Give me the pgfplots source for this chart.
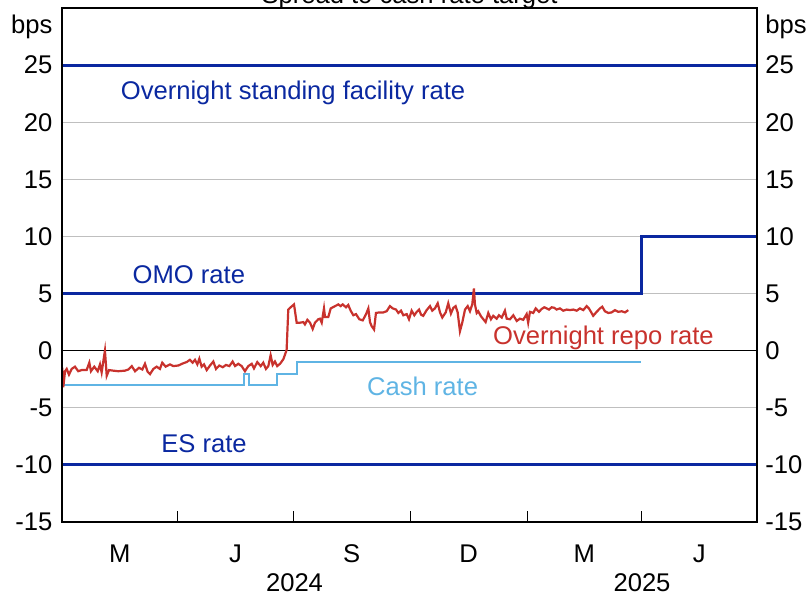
\documentclass[border=0pt]{standalone}
\usepackage{fontspec}
\setmainfont{Liberation Sans}
\usepackage{pgfplots}
\pgfplotsset{compat=1.18}
\usetikzlibrary{calc}
\definecolor{rbadark}{RGB}{10,40,160}
\definecolor{rbared}{RGB}{200,50,45}
\definecolor{rbalight}{RGB}{95,180,228}
\begin{document}
\begin{tikzpicture}[font=\fontsize{12.8}{15}\selectfont]
\pgfplotsset{common/.style={
  scale only axis, width=347.5pt, height=257pt,
  xmin=0, xmax=547, ymin=-15, ymax=30,
  /pgf/number format/assume math mode=true,
  axis line style={line width=0.6pt},
  ytick={-15,-10,-5,0,5,10,15,20,25},
  yticklabels={-15,-10,-5,0,5,10,15,20,25},
  extra y ticks={28.35}, extra y tick labels={bps},
  extra y tick style={grid=none, major tick length=0pt},
  major tick length=0pt,
  clip=false,
}}
\begin{axis}[common,
  ymajorgrids, grid style={black!25, line width=0.5pt},
  ytick pos=left,
  yticklabel style={inner sep=0pt, xshift=-4.6pt},
  xtick={45.5,136.5,228,320,411,501.5},
  xticklabels={M,J,S,D,M,J},
  minor xtick={91,182,274,366,456},
  minor tick length=5.5pt, tick align=inside, xtick pos=bottom,
  minor tick style={line width=0.5pt, black},
  xticklabel style={inner sep=0pt, anchor=north, text height=9.2pt, yshift=-11pt},
]
% zero line
\addplot[black, line width=0.6pt] coordinates {(0,0) (547,0)};
% Overnight standing facility rate
\addplot[rbadark, line width=1.5pt] coordinates {(0,25) (547,25)};
% ES rate
\addplot[rbadark, line width=1.5pt] coordinates {(0,-10) (547,-10)};
% OMO rate
\addplot[rbadark, line width=1.5pt] coordinates {(0,5) (456,5) (456,10) (547,10)};
% Cash rate
\addplot[rbalight, line width=1pt] coordinates {(0,-3) (143,-3) (143,-2) (147,-2) (147,-3) (169,-3) (169,-2) (185,-2) (185,-1) (456,-1)};
% Overnight repo rate
\addplot[rbared, line width=1.1pt] coordinates {
(0.2,-1.5) (1.0,-3.2) (2.4,-1.8) (3.7,-1.6) (5.5,-2.1) (7.6,-1.6) (10.2,-1.4) (12.8,-1.8)
(15.5,-1.7) (19.4,-1.7) (21.5,-1.05) (22.8,-1.8) (25.4,-1.4) (28.1,-1.8) (29.9,-1.2) (31.2,-1.9)
(33.8,0) (35.2,-2.2) (37.0,-1.7) (40.4,-1.75) (44.3,-1.8) (49.6,-1.75) (52.2,-1.65) (54.9,-1.35)
(57.5,-1.8) (60.6,-1.5) (63.2,-1.65) (65.3,-1.15) (67.4,-1.85) (69.3,-2.05) (71.9,-1.6) (74.5,-1.4)
(77.1,-1.6) (78.9,-1.05) (81.6,-1.4) (85.0,-1.2) (87.6,-1.35) (91.5,-1.3) (95.5,-1.1)
(98.1,-1.0) (100.7,-0.8) (102.8,-1.05) (104.7,-0.8) (106.5,-1.2) (108.1,-0.7) (109.9,-1.4) (111.8,-1.2)
(113.9,-1.7) (116.5,-1.3) (119.1,-0.95) (121.2,-1.6) (123.8,-1.3) (126.5,-1.45) (129.1,-1.25) (131.7,-1.35)
(134.3,-0.95) (136.2,-1.35) (138.7,-1.15) (141.4,-1.35) (144.0,-1.8) (146.6,-1.35) (149.3,-1.15) (151.1,-1.55)
(153.7,-1.0) (156.4,-1.35) (158.4,-1.05) (160.5,-1.6) (162.4,-1.35) (164.2,-0.4) (165.8,-1.25) (167.6,-0.95)
(169.4,-1.35) (171.6,-1.15) (174.2,-0.75) (176.3,-0.1)
(176.8,0.1) (178.1,3.6) (180.0,3.8) (182.6,4.05) (184.7,2.45) (187.3,2.45) (189.9,2.5) (191.2,2.3)
(193.1,2.7) (195.2,2.45) (197.3,1.9) (199.1,2.45) (201.7,2.75) (203.0,2.8) (204.4,2.45) (206.2,3.7)
(207.0,2.95) (209.6,2.95) (211.5,3.7) (214.9,3.9) (217.5,4.05) (219.3,3.9) (220.9,4.05) (223.5,3.8)
(225.3,4.0) (227.2,3.5) (229.3,3.1) (231.4,3.2) (234.0,2.75) (236.7,2.65) (239.3,3.2) (241.1,3.7)
(242.4,2.5) (243.7,2.15) (245.6,1.85) (247.1,3.3) (249.7,3.35) (252.9,3.35) (255.5,3.45) (258.1,3.9)
(260.3,3.7) (262.9,3.6) (264.7,3.3)
(266.8,3.5) (268.6,3.1) (271.3,3.2) (273.1,2.75) (275.2,3.5) (277.3,3.1) (279.2,3.4) (281.0,3.6)
(282.6,3.15) (284.3,3.05) (287.0,3.55) (289.6,3.9) (291.4,3.5) (293.5,3.7) (295.7,4.15) (297.5,3.35)
(299.3,2.9) (302.0,3.35) (304.0,4.15) (306.1,3.25) (308.0,3.75) (309.8,3.9) (311.4,3.35) (313.2,1.7)
(315.0,2.45) (317.2,3.6) (319.3,3.9) (321.1,3.45) (322.9,4.05) (324.2,5.45) (325.0,4.05) (326.4,3.3)
(327.6,3.45) (329.8,3.0) (331.6,2.75) (333.4,2.5) (335.5,3.3) (337.6,2.75) (339.4,3.05) (342.1,2.8)
(343.9,3.1) (346.1,2.9) (348.6,3.5) (350.0,2.8) (352.6,2.75) (355.2,3.1) (357.9,2.6) (360.4,2.8)
(363.0,2.7)
(365.7,3.2) (366.9,2.45) (368.3,3.4) (370.9,3.3) (372.8,3.7) (375.4,3.4) (377.5,3.65) (379.6,3.8)
(381.5,3.7) (383.3,3.6) (385.4,3.8) (387.5,3.75) (389.3,3.6) (391.9,3.7) (394.5,3.5) (397.2,3.6)
(399.8,3.55) (402.4,3.6) (405.1,3.5) (407.6,3.7) (410.3,3.55) (412.9,3.9) (414.7,3.7) (416.3,3.4)
(418.1,3.05) (420.8,3.4) (423.4,3.7) (425.2,3.85) (427.3,3.45) (429.9,3.3) (432.6,3.35) (435.2,3.55)
(437.8,3.4) (440.5,3.45) (443.1,3.35) (445.7,3.55)
};
\node[anchor=base west, inner sep=0pt, text=rbadark] at (axis cs:46,22.0) {Overnight standing facility rate};
\node[anchor=base west, inner sep=0pt, text=rbadark] at (axis cs:55.3,5.9) {OMO rate};
\node[anchor=base west, inner sep=0pt, text=rbared] at (axis cs:339,0.5) {Overnight repo rate};
\node[anchor=base west, inner sep=0pt, text=rbalight] at (axis cs:239.8,-3.95) {Cash rate};
\node[anchor=base west, inner sep=0pt, text=rbadark] at (axis cs:77.9,-8.95) {ES rate};
\node[anchor=north, inner sep=0pt, text height=9.2pt, yshift=-25.3pt] at (axis cs:183,-15) {2024};
\node[anchor=north, inner sep=0pt, text height=9.2pt, yshift=-25.3pt] at (axis cs:456.5,-15) {2025};
\node[anchor=base, inner sep=0pt, yshift=2pt] at (rel axis cs:0.5,1) {Spread to cash rate target};
\end{axis}
\begin{axis}[common,
  ytick pos=right, yticklabel pos=right,
  yticklabel style={inner sep=0pt, xshift=4pt},
  xtick=\empty,
]
\end{axis}
\pgfresetboundingbox
\path[use as bounding box] ($(current axis.south west)+(-31pt,-36pt)$) rectangle ($(current axis.north east)+(25.5pt,4pt)$);
\end{tikzpicture}
\end{document}
